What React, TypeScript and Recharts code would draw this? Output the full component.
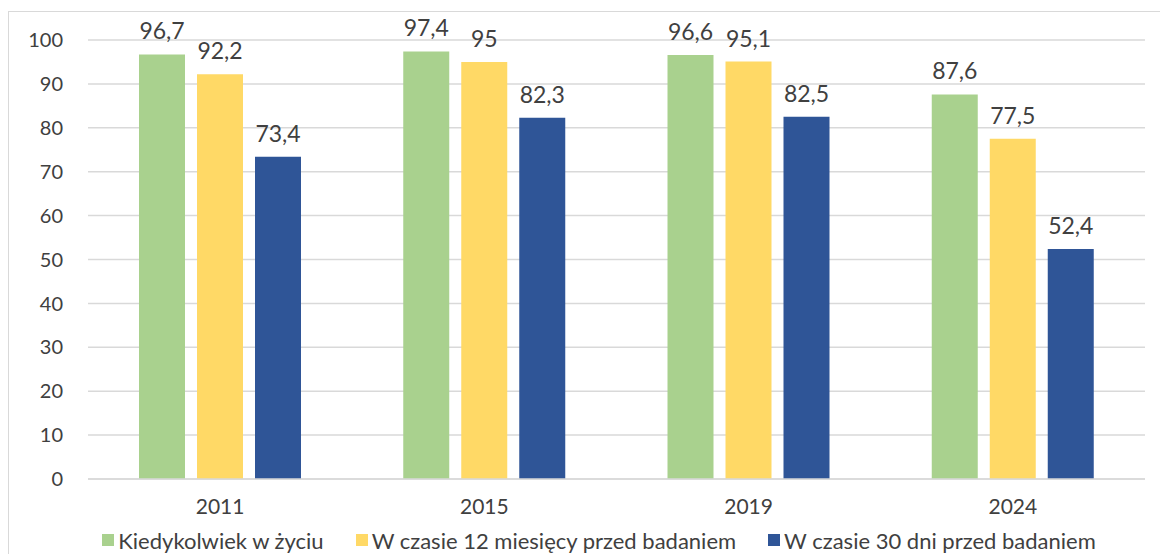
import React from "react";
import { BarChart, Bar, XAxis, YAxis, CartesianGrid, Legend, LabelList } from "recharts";

const categories = ["2011", "2015", "2019", "2024"];
const seriesNames = [
  "Kiedykolwiek w życiu",
  "W czasie 12 miesięcy przed badaniem",
  "W czasie 30 dni przed badaniem",
];
const everValues = [96.7, 97.4, 96.6, 87.6];
const months12Values = [92.2, 95, 95.1, 77.5];
const days30Values = [73.4, 82.3, 82.5, 52.4];
const yTicks = [0, 10, 20, 30, 40, 50, 60, 70, 80, 90, 100];

const colors = ["#A9D18E", "#FFD966", "#2F5597"];
const keys = ["ever", "m12", "d30"];

const data = categories.map((c, i) => ({
  year: c,
  ever: everValues[i],
  m12: months12Values[i],
  d30: days30Values[i],
}));

const FONT = "Lato, 'Open Sans', sans-serif";
const TEXT = "#404040";

const fmt = (v: any) => String(v).replace(".", ",");

const renderLegend = (props: any) => {
  const { payload } = props;
  return (
    <div
      style={{
        display: "flex",
        justifyContent: "center",
        alignItems: "center",
        height: 24,
        fontFamily: FONT,
        fontSize: 22,
        color: TEXT,
        whiteSpace: "nowrap",
        paddingLeft: 44,
      }}
    >
      {(payload || []).map((p: any, i: number) => (
        <div
          key={i}
          style={{ display: "flex", alignItems: "center", marginRight: i < payload.length - 1 ? 32 : 0 }}
        >
          <span style={{ display: "inline-block", width: 12, height: 12, background: p.color, marginRight: 4 }} />
          <span>{p.value}</span>
        </div>
      ))}
    </div>
  );
};

export default function App() {
  return (
    <div
      style={{
        position: "absolute",
        left: 8,
        top: 11,
        width: 1152,
        height: 543,
        borderLeft: "1px solid #d9d9d9",
        borderTop: "1px solid #d9d9d9",
        background: "#fff",
        boxSizing: "border-box",
      }}
    >
      <BarChart
        width={1151}
        height={542}
        data={data}
        margin={{ top: 28, right: 15, bottom: 2, left: 0 }}
        barSize={46}
        barGap={12}
      >
        <CartesianGrid vertical={false} stroke="#d9d9d9" strokeWidth={1.5} />
        <XAxis
          dataKey="year"
          height={49}
          tickLine={false}
          tickSize={0}
          tickMargin={20}
          axisLine={{ stroke: "#d9d9d9", strokeWidth: 1.5 }}
          tick={{ fill: TEXT, fontSize: 21, fontFamily: FONT }}
        />
        <YAxis
          width={79}
          domain={[0, 100]}
          ticks={yTicks}
          interval={0}
          tickLine={false}
          axisLine={false}
          tickSize={0}
          tickMargin={25}
          tick={{ fill: TEXT, fontSize: 20, fontFamily: FONT }}
        />
        <Legend verticalAlign="bottom" content={renderLegend} />
        {keys.map((k, i) => (
          <Bar key={k} dataKey={k} name={seriesNames[i]} fill={colors[i]} isAnimationActive={false}>
            <LabelList
              dataKey={k}
              position="top"
              offset={15}
              formatter={fmt}
              style={{ fill: TEXT, fontSize: 23, fontFamily: FONT }}
            />
          </Bar>
        ))}
      </BarChart>
    </div>
  );
}
